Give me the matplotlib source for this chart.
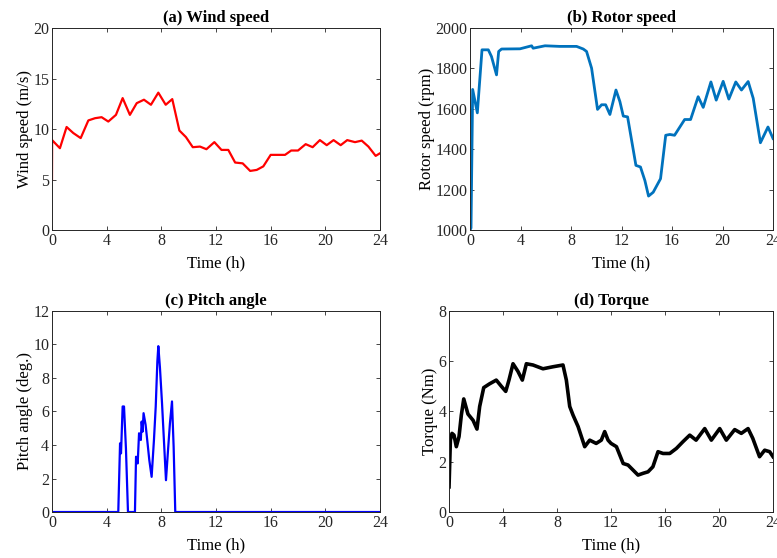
import numpy as np
import matplotlib
matplotlib.use('Agg')
import matplotlib.pyplot as plt

plt.rcParams['font.family'] = 'Liberation Serif'
plt.rcParams['font.size'] = 11

# (a) wind speed
wind_t = [0, 0.01, 0.58, 1.07, 1.56, 2.1, 2.66, 3.15, 3.63, 4.12, 4.68, 5.17, 5.7, 6.2, 6.73,
          7.24, 7.78, 8.32, 8.8, 9.32, 9.8, 10.3, 10.83, 11.3, 11.88, 12.4, 12.9, 13.4, 13.95,
          14.5, 14.98, 15.46, 16.0, 17.05, 17.5, 18.0, 18.56, 19.07, 19.6, 20.1, 20.6, 21.12,
          21.6, 22.17, 22.66, 23.15, 23.68, 24]
wind_v = [5.0, 8.9, 8.1, 10.2, 9.6, 9.1, 10.85, 11.07, 11.17, 10.74, 11.4, 13.06, 11.4, 12.56,
          12.9, 12.4, 13.6, 12.4, 12.96, 9.85, 9.2, 8.2, 8.26, 8.0, 8.7, 7.93, 7.93, 6.68, 6.6,
          5.85, 5.95, 6.3, 7.44, 7.44, 7.87, 7.87, 8.5, 8.2, 8.9, 8.4, 8.9, 8.4, 8.9, 8.7, 8.85,
          8.26, 7.34, 7.6]

# (b) rotor speed
rotor_t = [0, 0.08, 0.21, 0.58, 0.95, 1.45, 1.7, 2.1, 2.27, 2.5, 3.96, 4.88, 5.0, 5.94, 7.1,
           8.44, 8.97, 9.23, 9.63, 10.1, 10.42, 10.74, 11.08, 11.56, 11.87, 12.14, 12.48, 13.14,
           13.5, 13.85, 14.14, 14.51, 15.09, 15.5, 15.83, 16.2, 17.0, 17.47, 18.07, 18.47, 19.08,
           19.5, 20.05, 20.5, 21.05, 21.5, 22.03, 22.43, 23.0, 23.6, 24]
rotor_v = [1000, 1010, 1696, 1580, 1892, 1892, 1859, 1768, 1884, 1896, 1897, 1912, 1900, 1912,
           1909, 1909, 1896, 1884, 1801, 1597, 1620, 1620, 1572, 1693, 1636, 1564, 1560, 1320,
           1312, 1245, 1168, 1187, 1254, 1469, 1473, 1469, 1547, 1547, 1660, 1607, 1733, 1643,
           1736, 1648, 1733, 1693, 1735, 1652, 1432, 1510, 1453]

# (c) pitch angle
pitch_t = [0, 4.85, 4.98, 5.05, 5.17, 5.27, 5.41, 5.56, 6.07, 6.15, 6.27, 6.37, 6.5, 6.56, 6.63,
           6.7, 6.85, 6.98, 7.12, 7.29, 7.46, 7.59, 7.71, 7.78, 7.9, 8.05, 8.34, 8.49, 8.63, 8.78,
           8.9, 9.02, 24]
pitch_v = [0, 0, 4.1, 3.5, 6.3, 6.3, 3.8, 0, 0, 3.3, 2.9, 4.7, 4.3, 5.4, 4.8, 5.9, 5.2, 4.2, 3.1,
           2.1, 4.3, 6.3, 9.0, 9.9, 8.6, 6.5, 1.9, 3.7, 5.3, 6.6, 3.9, 0, 0]

# (d) torque
torque_t = [0, 0.1, 0.22, 0.37, 0.54, 0.74, 0.91, 1.09, 1.4, 1.78, 2.07, 2.27, 2.57, 3.0, 3.5,
            3.88, 4.2, 4.44, 4.74, 5.1, 5.43, 5.73, 6.22, 6.96, 7.7, 8.44, 8.69, 8.94, 9.19,
            9.56, 10.05, 10.42, 10.9, 11.28, 11.53, 11.78, 12.0, 12.4, 12.9, 13.26, 13.63, 14.0,
            14.37, 14.74, 15.1, 15.48, 15.85, 16.35, 16.84, 17.33, 17.83, 18.3, 18.94, 19.43,
            20.05, 20.54, 21.16, 21.65, 22.15, 22.5, 23.0, 23.38, 23.75, 24]
torque_v = [1.0, 2.86, 3.13, 3.06, 2.6, 3.0, 3.85, 4.5, 3.9, 3.65, 3.3, 4.2, 4.95, 5.1, 5.25,
            5.0, 4.8, 5.25, 5.9, 5.6, 5.25, 5.9, 5.85, 5.7, 5.78, 5.85, 5.25, 4.2, 3.85, 3.4,
            2.6, 2.86, 2.73, 2.86, 3.2, 2.86, 2.73, 2.6, 1.93, 1.87, 1.67, 1.47, 1.54, 1.6, 1.8,
            2.4, 2.33, 2.33, 2.53, 2.8, 3.06, 2.86, 3.32, 2.86, 3.32, 2.86, 3.28, 3.13, 3.32,
            2.93, 2.2, 2.46, 2.4, 2.2]

fig = plt.figure(figsize=(7.77, 5.58), dpi=100)
axa = fig.add_axes([0.0669, 0.5878, 0.4222, 0.3620])
axb = fig.add_axes([0.6049, 0.5878, 0.3900, 0.3620])
axc = fig.add_axes([0.0669, 0.0824, 0.4222, 0.3603])
axd = fig.add_axes([0.5779, 0.0824, 0.4170, 0.3603])

axa.plot(wind_t, wind_v, color='#FF0000', lw=1.6)
axb.plot(rotor_t, rotor_v, color='#0072BD', lw=2.0)
axc.plot(pitch_t, pitch_v, color='#0000FF', lw=1.6)
axd.plot(torque_t, torque_v, color='black', lw=2.6)

setup = [
    (axa, '(a) Wind speed', 'Wind speed (m/s)', (0, 20), [0, 5, 10, 15, 20]),
    (axb, '(b) Rotor speed', 'Rotor speed (rpm)', (1000, 2000), [1000, 1200, 1400, 1600, 1800, 2000]),
    (axc, '(c) Pitch angle', 'Pitch angle (deg.)', (0, 12), [0, 2, 4, 6, 8, 10, 12]),
    (axd, '(d) Torque', 'Torque (Nm)', (0, 8), [0, 2, 4, 6, 8]),
]
for ax, title, ylabel, ylim, yticks in setup:
    ax.set_xlim(0, 24)
    ax.set_xticks([0, 4, 8, 12, 16, 20, 24])
    ax.set_ylim(*ylim)
    ax.set_yticks(yticks)
    ax.set_title(title, fontweight='bold', fontsize=12, pad=4)
    ax.set_xlabel('Time (h)', fontsize=12, labelpad=4.5)
    ax.set_ylabel(ylabel, fontsize=12, labelpad=0)
    ax.tick_params(direction='in', top=True, right=True, length=3, width=0.6,
                   labelsize=11.5, colors='#262626', pad=2)
    for s in ax.spines.values():
        s.set_linewidth(0.7)
        s.set_color('#262626')

fig.savefig('out.png', dpi=100)
